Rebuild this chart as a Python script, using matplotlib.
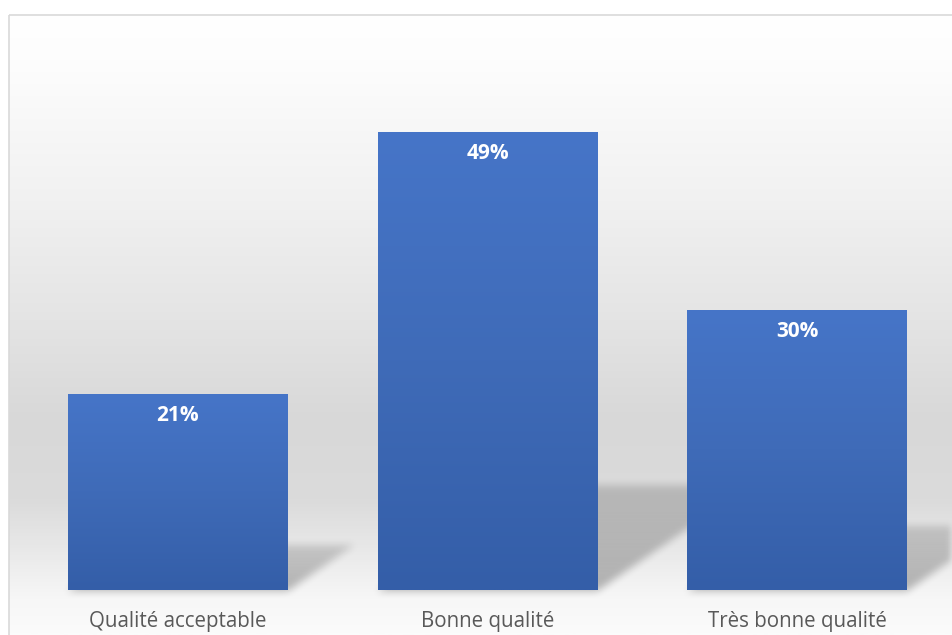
import numpy as np
import matplotlib.pyplot as plt
from matplotlib.colors import LinearSegmentedColormap
from matplotlib.patches import Rectangle

categories = ["Qualité acceptable", "Bonne qualité", "Très bonne qualité"]
shares = [21, 49, 30]

W, H = 952, 635
plt.rcParams["font.family"] = ["Open Sans", "DejaVu Sans"]

fig = plt.figure(figsize=(W / 100, H / 100), dpi=100)
fig.patch.set_facecolor("white")

# chart area: light vertical gradient + thin frame
bg = fig.add_axes([0, 0, 1, 1])
bg.set_xlim(0, W)
bg.set_ylim(H, 0)
bg.axis("off")

top, bottom = 14, H
bg_stops = [(14, "#ffffff"), (60, "#fdfdfd"), (200, "#f1f1f1"), (330, "#e3e3e3"),
            (420, "#d8d8d8"), (500, "#dbdbdb"), (560, "#ebebeb"), (600, "#f7f7f7"),
            (635, "#fbfbfb")]
bg_cmap = LinearSegmentedColormap.from_list(
    "bg", [((y - top) / (bottom - top), c) for y, c in bg_stops])
grad = np.linspace(0, 1, 512).reshape(-1, 1)
bg.imshow(grad, cmap=bg_cmap, extent=[8.5, W, bottom, top], aspect="auto", zorder=0)
bg.add_patch(Rectangle((8.5, 14.5), W, H, fill=False, edgecolor="#d9d9d9", lw=1.2, zorder=3))

ax = fig.add_axes([23 / W, 45 / H, 929 / W, 561 / H])
ax.set_facecolor("none")
ax.set_xlim(-0.5, 2.5)
ax.set_ylim(0, 60)
for s in ax.spines.values():
    s.set_visible(False)
ax.set_xticks([])
ax.set_yticks([])

x = np.arange(len(categories))
bars = ax.bar(x, shares, width=0.71, color="none", zorder=2)

# perspective shadows behind the bars, computed in pixel space and softened
shadow = np.zeros((H, W))
rows, cols = np.mgrid[0:H, 0:W]
disp_y = H - rows
for b in bars:
    (x0, yb), (x1, yt) = ax.transData.transform([(b.get_x(), 0), (b.get_x() + b.get_width(), b.get_height())])
    h = yt - yb
    dy = 0.23 * h
    dx = 1.45 * dy
    t = (disp_y - yb) / dy
    inside = (t >= 0) & (t <= 1) & (cols >= x0 + t * dx) & (cols <= x1 + t * dx)
    shadow = np.maximum(shadow, np.where(inside, 0.27 - 0.12 * np.clip(t, 0, 1), 0))


def box_blur(a, r):
    k = np.ones(2 * r + 1) / (2 * r + 1)
    a = np.apply_along_axis(lambda v: np.convolve(v, k, mode="same"), 0, a)
    return np.apply_along_axis(lambda v: np.convolve(v, k, mode="same"), 1, a)


shadow = box_blur(box_blur(shadow, 4), 4)
rgba = np.zeros((H, W, 4))
rgba[..., 3] = shadow
bg.imshow(rgba, extent=[0, W, H, 0], aspect="auto", zorder=1, interpolation="bilinear")

# bar bodies with a soft blue gradient
bar_cmap = LinearSegmentedColormap.from_list("bar", ["#345ea8", "#3f6bb8", "#4675c8"])
for b in bars:
    im = ax.imshow(grad[::-1], cmap=bar_cmap, aspect="auto", zorder=2,
                   extent=[b.get_x(), b.get_x() + b.get_width(), 0, b.get_height()])
    im.set_clip_path(b)

for xi, v in zip(x, shares):
    ax.annotate(f"{v}%", (xi, v), xytext=(0, -15.5), textcoords="offset points",
                ha="center", va="center", color="white", fontsize=15, fontweight="bold", zorder=4)
    ax.annotate(categories[xi], (xi, 0), xytext=(0, -22.5), textcoords="offset points",
                ha="center", va="center", color="#595959", fontsize=14.8, annotation_clip=False)

fig.savefig("out.png", dpi=100)
